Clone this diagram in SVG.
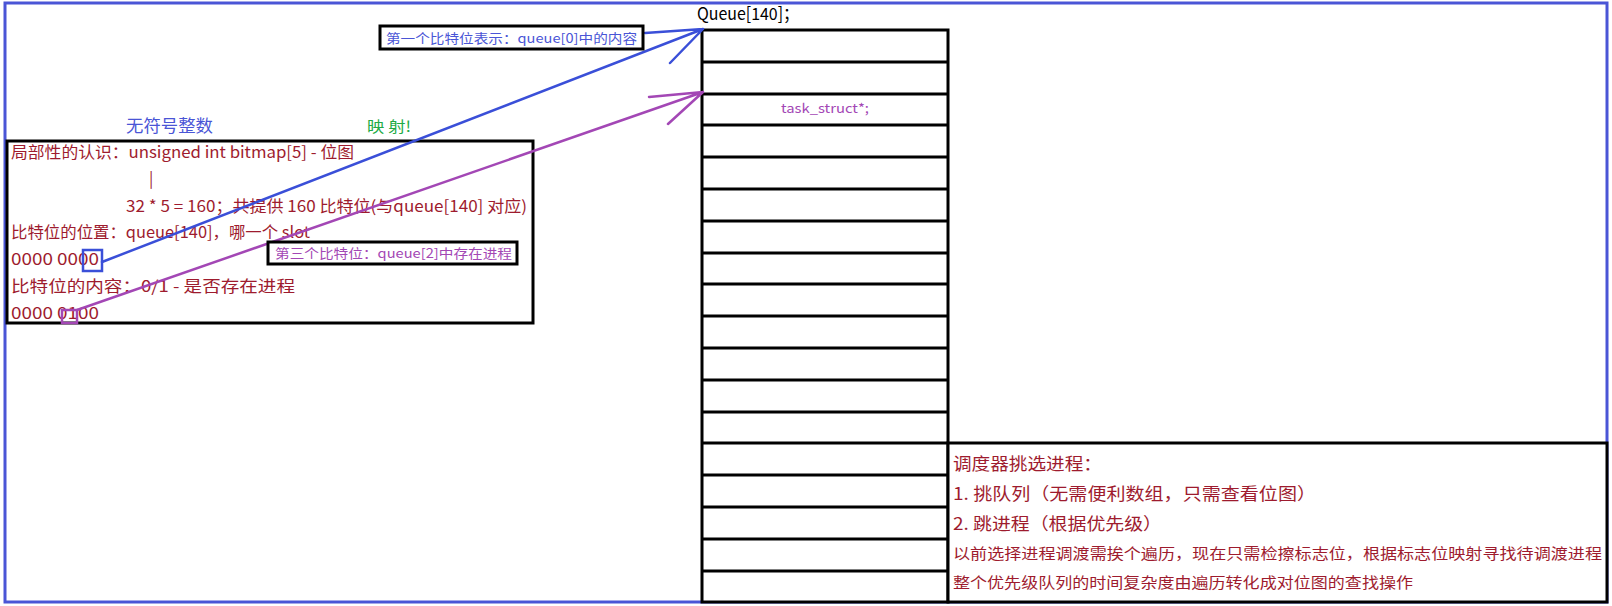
<svg xmlns="http://www.w3.org/2000/svg" width="1612" height="606" viewBox="0 0 1612 606">
<style>
text{font-family:"Noto Sans CJK SC","Noto Sans",sans-serif}
.r{fill:#9e1b2e;font-size:16px}
.cell{fill:#fff;stroke:#000;stroke-width:3}
.bl{stroke:#3a4fd8;stroke-width:2.5;fill:none;stroke-linecap:round}
.pu{stroke:#a347b5;stroke-width:2.5;fill:none;stroke-linecap:round}
</style>
<rect width="1612" height="606" fill="#fff"/>
<rect x="5" y="3" width="1602" height="599" fill="none" stroke="#4a55d6" stroke-width="3"/>
<g id="queue">
<text x="697" y="20" font-size="17" fill="#000" textLength="102" lengthAdjust="spacingAndGlyphs">Queue[140]；</text>
<rect class="cell" x="702" y="30" width="246" height="572"/>
<path d="M702 62H948M702 94H948M702 125H948M702 157H948M702 189H948M702 221H948M702 253H948M702 284H948M702 316H948M702 348H948M702 380H948M702 412H948M702 443H948M702 475H948M702 507H948M702 539H948M702 571H948" stroke="#000" stroke-width="3"/>
<text x="781" y="113" font-size="13" fill="#a347b5" textLength="88" lengthAdjust="spacingAndGlyphs">task_struct*;</text>
</g>
<g id="scheduler">
<rect x="948" y="443" width="659" height="159" fill="#fff" stroke="#000" stroke-width="3"/>
<text class="r" x="953" y="470" style="font-size:17px" textLength="149" lengthAdjust="spacingAndGlyphs">调度器挑选进程：</text>
<text class="r" x="953" y="500" style="font-size:17px" textLength="363" lengthAdjust="spacingAndGlyphs">1. 挑队列（无需便利数组，只需查看位图）</text>
<text class="r" x="953" y="530" style="font-size:17px" textLength="209" lengthAdjust="spacingAndGlyphs">2. 跳进程（根据优先级）</text>
<text class="r" x="953" y="559" style="font-size:15px" textLength="649" lengthAdjust="spacingAndGlyphs">以前选择进程调渡需挨个遍历，现在只需检擦标志位，根据标志位映射寻找待调渡进程</text>
<text class="r" x="953" y="588" style="font-size:15px" textLength="460" lengthAdjust="spacingAndGlyphs">整个优先级队列的时间复杂度由遍历转化成对位图的查找操作</text>
</g>
<g id="bitmap">
<text x="126" y="132" font-size="17" fill="#4a55d6" textLength="87" lengthAdjust="spacingAndGlyphs">无符号整数</text>
<text x="367" y="132" font-size="15" fill="#22aa44" textLength="44" lengthAdjust="spacingAndGlyphs">映 射!</text>
<rect x="7" y="141" width="526" height="182" fill="none" stroke="#000" stroke-width="3"/>
<text class="r" x="11" y="158" textLength="343" lengthAdjust="spacingAndGlyphs">局部性的认识：unsigned int bitmap[5] - 位图</text>
<text class="r" x="149" y="184">|</text>
<text class="r" x="126" y="212" textLength="401" lengthAdjust="spacingAndGlyphs">32 * 5 = 160；共提供 160 比特位(与queue[140] 对应)</text>
<text class="r" x="11" y="238" textLength="299" lengthAdjust="spacingAndGlyphs">比特位的位置：queue[140]，哪一个 slot</text>
<text class="r" x="11" y="265" textLength="88" lengthAdjust="spacingAndGlyphs">0000 0000</text>
<text class="r" x="11" y="292" textLength="284" lengthAdjust="spacingAndGlyphs">比特位的内容：0/1 - 是否存在进程</text>
<text class="r" x="11" y="319" textLength="88" lengthAdjust="spacingAndGlyphs">0000 0100</text>
<rect x="83" y="250" width="19" height="21" fill="none" stroke="#3a4fd8" stroke-width="2.5"/>
<rect x="62" y="310" width="15" height="13" fill="none" stroke="#a347b5" stroke-width="2.5"/>
</g>
<g id="connectors">
<path class="bl" d="M102 262L703 29M645 33L703 29M670 63L703 29"/>
<path class="pu" d="M77 310L703 92M649 97L703 92M668 124L703 92"/>
</g>
<g id="callout1">
<rect x="380" y="26" width="263" height="23" fill="#fff" stroke="#000" stroke-width="3"/>
<text x="386" y="43" font-size="13" fill="#4a55d6" textLength="251" lengthAdjust="spacingAndGlyphs">第一个比特位表示：queue[0]中的内容</text>
</g>
<g id="callout2">
<rect x="268" y="242" width="249" height="22" fill="#fff" stroke="#000" stroke-width="3"/>
<text x="275" y="258" font-size="13" fill="#a347b5" textLength="237" lengthAdjust="spacingAndGlyphs">第三个比特位：queue[2]中存在进程</text>
</g>
</svg>
